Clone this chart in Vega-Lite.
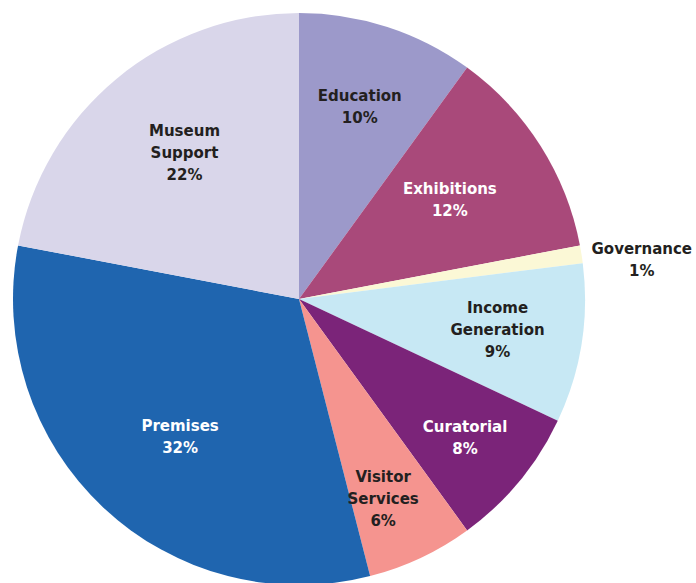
{
  "$schema": "https://vega.github.io/schema/vega-lite/v6.json",
  "width": 598,
  "height": 598,
  "autosize": "none",
  "padding": {"left": 0, "top": 0, "right": 98, "bottom": 0},
  "background": "white",
  "view": {"stroke": null},
  "config": {
    "text": {"font": "DejaVu Sans", "fontWeight": "bold", "fontSize": 15, "lineHeight": 22, "align": "center", "baseline": "middle", "lineBreak": "\n", "radius": 200}
  },
  "data": {
    "values": [
      {"idx": 1, "cat": "Education", "pct": 10, "label": "Education\n10%"},
      {"idx": 2, "cat": "Exhibitions", "pct": 12, "label": "Exhibitions\n12%"},
      {"idx": 3, "cat": "Governance", "pct": 1, "label": "Governance\n1%"},
      {"idx": 4, "cat": "Income Generation", "pct": 9, "label": "Income\nGeneration\n9%"},
      {"idx": 5, "cat": "Curatorial", "pct": 8, "label": "Curatorial\n8%"},
      {"idx": 6, "cat": "Visitor Services", "pct": 6, "label": "Visitor\nServices\n6%"},
      {"idx": 7, "cat": "Premises", "pct": 32, "label": "Premises\n32%"},
      {"idx": 8, "cat": "Museum Support", "pct": 22, "label": "Museum\nSupport\n22%"}
    ]
  },
  "encoding": {
    "theta": {"field": "pct", "type": "quantitative", "stack": true},
    "order": {"field": "idx", "type": "quantitative"},
    "text": {"field": "label"}
  },
  "layer": [
    {
      "mark": {"type": "arc", "outerRadius": 286, "stroke": null},
      "encoding": {
        "text": null,
        "color": {
          "field": "cat",
          "type": "nominal",
          "legend": null,
          "scale": {
            "domain": ["Education", "Exhibitions", "Governance", "Income Generation", "Curatorial", "Visitor Services", "Premises", "Museum Support"],
            "range": ["#9c99ca", "#a9497a", "#fbf8d6", "#c7e8f4", "#7b2479", "#f5948f", "#1f65af", "#d9d6ea"]
          }
        }
      }
    },
    {
      "mark": {"type": "text", "dx": -1, "dy": -13, "color": "#231f20"},
      "encoding": {"opacity": {"condition": {"test": "datum.cat === 'Education'", "value": 1}, "value": 0}}
    },
    {
      "mark": {"type": "text", "dx": -18, "dy": -3, "color": "#ffffff"},
      "encoding": {"opacity": {"condition": {"test": "datum.cat === 'Exhibitions'", "value": 1}, "value": 0}}
    },
    {
      "mark": {"type": "text", "radius": 343, "dx": 4, "dy": 4, "color": "#231f20"},
      "encoding": {"opacity": {"condition": {"test": "datum.cat === 'Governance'", "value": 1}, "value": 0}}
    },
    {
      "mark": {"type": "text", "dx": 1, "dy": -22, "color": "#231f20"},
      "encoding": {"opacity": {"condition": {"test": "datum.cat === 'Income Generation'", "value": 1}, "value": 0}}
    },
    {
      "mark": {"type": "text", "dx": 12, "dy": 1, "color": "#ffffff"},
      "encoding": {"opacity": {"condition": {"test": "datum.cat === 'Curatorial'", "value": 1}, "value": 0}}
    },
    {
      "mark": {"type": "text", "dx": -1, "dy": -3, "color": "#231f20"},
      "encoding": {"opacity": {"condition": {"test": "datum.cat === 'Visitor Services'", "value": 1}, "value": 0}}
    },
    {
      "mark": {"type": "text", "dx": 18, "dy": -19, "color": "#ffffff"},
      "encoding": {"opacity": {"condition": {"test": "datum.cat === 'Premises'", "value": 1}, "value": 0}}
    },
    {
      "mark": {"type": "text", "dx": 13, "dy": -14, "color": "#231f20"},
      "encoding": {"opacity": {"condition": {"test": "datum.cat === 'Museum Support'", "value": 1}, "value": 0}}
    }
  ]
}
